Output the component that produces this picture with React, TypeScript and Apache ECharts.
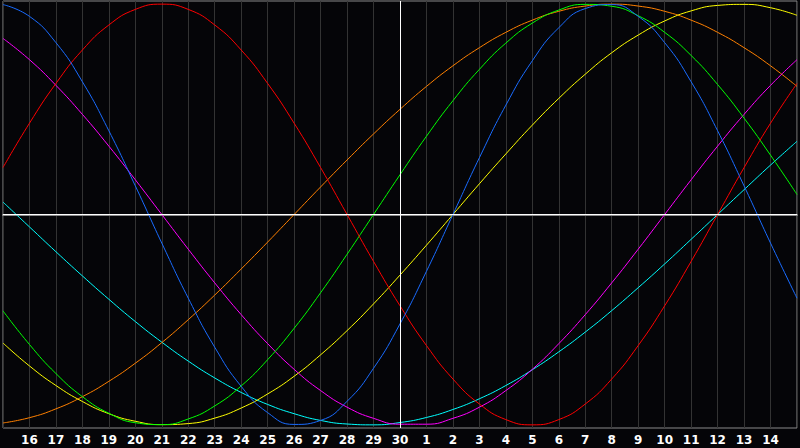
import React, { useEffect, useRef } from "react";
import * as echarts from "echarts";

// Day-of-month ticks across the chart (first and last are not labelled)
const days = [
  "15", "16", "17", "18", "19", "20", "21", "22", "23", "24", "25", "26", "27", "28", "29", "30",
  "1", "2", "3", "4", "5", "6", "7", "8", "9", "10", "11", "12", "13", "14", "15",
];
const todayLabel = "30";

// Cycle values (-1..1) read at each day
const physical = [
  0.998, 0.942, 0.817, 0.631, 0.398, 0.136, -0.136, -0.398, -0.631, -0.817, -0.942, -0.998, -0.979, -0.888, -0.731, -0.52,
  -0.27, 0, 0.27, 0.52, 0.731, 0.888, 0.979, 0.998, 0.942, 0.817, 0.631, 0.398, 0.136, -0.136, -0.398,
];
const emotional = [
  0.223, 0.434, 0.623, 0.782, 0.901, 0.975, 1, 0.975, 0.901, 0.782, 0.623, 0.434, 0.223, 0, -0.223, -0.434,
  -0.623, -0.782, -0.901, -0.975, -1, -0.975, -0.901, -0.782, -0.623, -0.434, -0.223, 0, 0.223, 0.434, 0.623,
];
const intellectual = [
  -0.458, -0.618, -0.756, -0.866, -0.945, -0.99, -0.999, -0.972, -0.91, -0.815, -0.69, -0.541, -0.372, -0.189, 0, 0.189,
  0.372, 0.541, 0.69, 0.815, 0.91, 0.972, 0.999, 0.99, 0.945, 0.866, 0.756, 0.618, 0.458, 0.282, 0.095,
];
const intuitive = [
  0.837, 0.736, 0.614, 0.476, 0.325, 0.165, 0, -0.165, -0.325, -0.476, -0.614, -0.736, -0.837, -0.916, -0.969, -0.997,
  -0.997, -0.969, -0.916, -0.837, -0.736, -0.614, -0.476, -0.325, -0.165, 0, 0.165, 0.325, 0.476, 0.614, 0.736,
];
const aesthetic = [
  -0.611, -0.72, -0.813, -0.889, -0.947, -0.983, -0.999, -0.994, -0.968, -0.92, -0.853, -0.769, -0.667, -0.552, -0.425, -0.288,
  -0.146, 0, 0.146, 0.288, 0.425, 0.552, 0.667, 0.769, 0.853, 0.92, 0.968, 0.994, 0.999, 0.983, 0.947,
];
const awareness = [
  -0.991, -0.966, -0.924, -0.866, -0.793, -0.707, -0.609, -0.5, -0.383, -0.259, -0.131, 0, 0.131, 0.259, 0.383, 0.5,
  0.609, 0.707, 0.793, 0.866, 0.924, 0.966, 0.991, 1, 0.991, 0.966, 0.924, 0.866, 0.793, 0.707, 0.609,
];
const spiritual = [
  0.059, -0.059, -0.177, -0.292, -0.403, -0.509, -0.607, -0.697, -0.777, -0.846, -0.903, -0.947, -0.979, -0.996, -1, -0.989,
  -0.965, -0.927, -0.876, -0.813, -0.738, -0.653, -0.559, -0.457, -0.348, -0.235, -0.118, 0, 0.118, 0.235, 0.348,
];

const cycles = [
  { name: "Spiritual", data: spiritual, color: "#00ffff" },
  { name: "Awareness", data: awareness, color: "#ff8000" },
  { name: "Aesthetic", data: aesthetic, color: "#ffff00" },
  { name: "Intuitive", data: intuitive, color: "#ff00ff" },
  { name: "Intellectual", data: intellectual, color: "#00ff00" },
  { name: "Emotional", data: emotional, color: "#ff0000" },
  { name: "Physical", data: physical, color: "#1a6cff" },
];

export default function App() {
  const ref = useRef<HTMLDivElement>(null);
  useEffect(() => {
    if (!ref.current) return;
    const chart = echarts.init(ref.current, undefined, { renderer: "svg" });
    const series: any[] = cycles.map((c) => ({
      name: c.name,
      type: "line",
      data: c.data,
      smooth: true,
      showSymbol: false,
      symbol: "none",
      lineStyle: { color: c.color, width: 1 },
      itemStyle: { color: c.color },
      z: 3,
    }));
    series.push({
      name: "ref",
      type: "line",
      data: [],
      z: 2,
      markLine: {
        silent: true,
        symbol: "none",
        label: { show: false },
        lineStyle: { color: "#ffffff", width: 1, type: "solid" },
        data: [{ xAxis: todayLabel }, { yAxis: 0 }],
      },
    });
    chart.setOption({
      animation: false,
      backgroundColor: "#050508",
      grid: {
        left: 1,
        right: 1,
        top: 1,
        bottom: 20,
        show: true,
        borderColor: "#8a8a8a",
        borderWidth: 1,
        backgroundColor: "#050508",
      },
      xAxis: {
        type: "category",
        boundaryGap: false,
        data: days,
        axisLine: { show: true, lineStyle: { color: "#8a8a8a", width: 2 } },
        axisTick: { show: false },
        splitLine: { show: true, interval: 0, lineStyle: { color: "#333333", width: 1 } },
        axisLabel: {
          interval: 0,
          color: "#ffffff",
          fontFamily: "DejaVu Sans",
          fontWeight: "bold",
          fontSize: 12,
          margin: 6,
          formatter: (v: string, i: number) => (i === 0 || i === days.length - 1 ? "" : v),
        },
      },
      yAxis: {
        type: "value",
        min: -1.015,
        max: 1.015,
        show: false,
        splitLine: { show: false },
      },
      series,
    });
    return () => chart.dispose();
  }, []);
  return <div ref={ref} style={{ width: 800, height: 448, position: "absolute", left: 0, top: 0 }} />;
}
